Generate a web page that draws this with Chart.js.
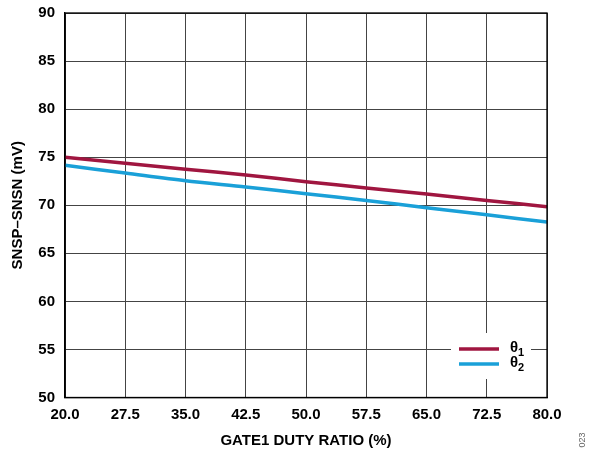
<!DOCTYPE html>
<html>
<head>
<meta charset="utf-8">
<script src="https://cdn.jsdelivr.net/npm/chart.js@4"></script>
<style>
  html, body { margin: 0; padding: 0; background: #fff; }
  #wrap { width: 590px; height: 457px; }
</style>
</head>
<body>
<div id="wrap"><canvas id="dutyChart" width="590" height="457"></canvas></div>
<script>
// duty ratio (%) on x, SNSP-SNSN (mV) on y
const dutyRatio = [20.0, 27.5, 35.0, 42.5, 50.0, 57.5, 65.0, 72.5, 80.0];
const theta1 = [75.0, 74.37, 73.74, 73.15, 72.45, 71.8, 71.17, 70.5, 69.85];
const theta2 = [74.15, 73.35, 72.55, 71.9, 71.2, 70.5, 69.74, 69.0, 68.26];
const seriesLabels = ['θ1', 'θ2'];
const seriesColors = ['rgb(160,22,64)', 'rgb(26,160,216)'];

const FONT = "'Liberation Sans', Arial, sans-serif";

function toPoints(ys) {
  return dutyRatio.map((x, i) => ({ x: x, y: ys[i] }));
}

// white legend box with subscripted theta labels, sitting in the plot area
const thetaLegend = {
  id: 'thetaLegend',
  afterDraw(chart) {
    const ctx = chart.ctx;
    const a = chart.chartArea;
    const boxR = a.right - 16, boxB = a.bottom - 18.5;
    ctx.save();
    ctx.fillStyle = '#fff';
    ctx.fillRect(boxR - 80, boxB - 46, 80, 46);
    chart.data.datasets.forEach((ds, i) => {
      const y = boxB - 30 + i * 15;
      ctx.strokeStyle = ds.borderColor;
      ctx.lineWidth = 3.5;
      ctx.beginPath();
      ctx.moveTo(boxR - 72, y);
      ctx.lineTo(boxR - 32, y);
      ctx.stroke();
      ctx.fillStyle = '#000';
      ctx.textBaseline = 'middle';
      ctx.textAlign = 'left';
      ctx.font = 'bold 15px ' + FONT;
      ctx.fillText('θ', boxR - 21, y - 1);
      const w = ctx.measureText('θ').width;
      ctx.font = 'bold 11px ' + FONT;
      ctx.fillText(ds.label.slice(1), boxR - 21 + w, y + 4);
    });
    // full plot frame
    ctx.strokeStyle = '#000';
    ctx.lineWidth = 1.3;
    ctx.strokeRect(a.left, a.top, a.right - a.left, a.bottom - a.top);
    // figure number at far right
    ctx.translate(583, 440);
    ctx.rotate(-Math.PI / 2);
    ctx.fillStyle = '#666';
    ctx.font = '9px ' + FONT;
    ctx.textAlign = 'center';
    ctx.textBaseline = 'middle';
    ctx.fillText('023', 0, 0);
    ctx.restore();
  }
};

new Chart(document.getElementById('dutyChart'), {
  type: 'line',
  data: {
    datasets: [
      {
        label: seriesLabels[0],
        data: toPoints(theta1),
        borderColor: seriesColors[0],
        borderWidth: 3.5,
        pointRadius: 0,
        fill: false,
        tension: 0.3
      },
      {
        label: seriesLabels[1],
        data: toPoints(theta2),
        borderColor: seriesColors[1],
        borderWidth: 3.5,
        pointRadius: 0,
        fill: false,
        tension: 0.3
      }
    ]
  },
  options: {
    responsive: false,
    animation: false,
    layout: { padding: { top: 13, right: 43, bottom: 0, left: 0 } },
    plugins: {
      legend: { display: false },
      tooltip: { enabled: false }
    },
    scales: {
      x: {
        type: 'linear',
        min: 20,
        max: 80,
        afterBuildTicks: (s) => { s.ticks = dutyRatio.map(v => ({ value: v })); },
        afterFit: (s) => { s.height = 59.5; s.paddingLeft = 0; s.paddingRight = 0; },
        grid: { color: '#444', lineWidth: 1, drawTicks: false },
        border: { color: '#000', width: 1.3 },
        ticks: {
          padding: 8,
          color: '#000',
          font: { family: FONT, size: 15, weight: 'bold' },
          maxRotation: 0,
          callback: (v) => Number(v).toFixed(1)
        },
        title: {
          display: true,
          text: 'GATE1 DUTY RATIO (%)',
          color: '#000',
          font: { family: FONT, size: 15, weight: 'bold' },
          padding: { top: 0, bottom: 7 }
        }
      },
      y: {
        min: 50,
        max: 90,
        afterFit: (s) => { s.width = 65; s.paddingTop = 0; s.paddingBottom = 0; },
        grid: { color: '#444', lineWidth: 1, drawTicks: false },
        border: { color: '#000', width: 1.3 },
        ticks: {
          stepSize: 5,
          padding: 10,
          color: '#000',
          font: { family: FONT, size: 15, weight: 'bold' }
        },
        title: {
          display: true,
          text: 'SNSP–SNSN (mV)',
          color: '#000',
          font: { family: FONT, size: 15, weight: 'bold' },
          padding: { top: 8.5, bottom: 0 }
        }
      }
    }
  },
  plugins: [thetaLegend]
});
</script>
</body>
</html>
